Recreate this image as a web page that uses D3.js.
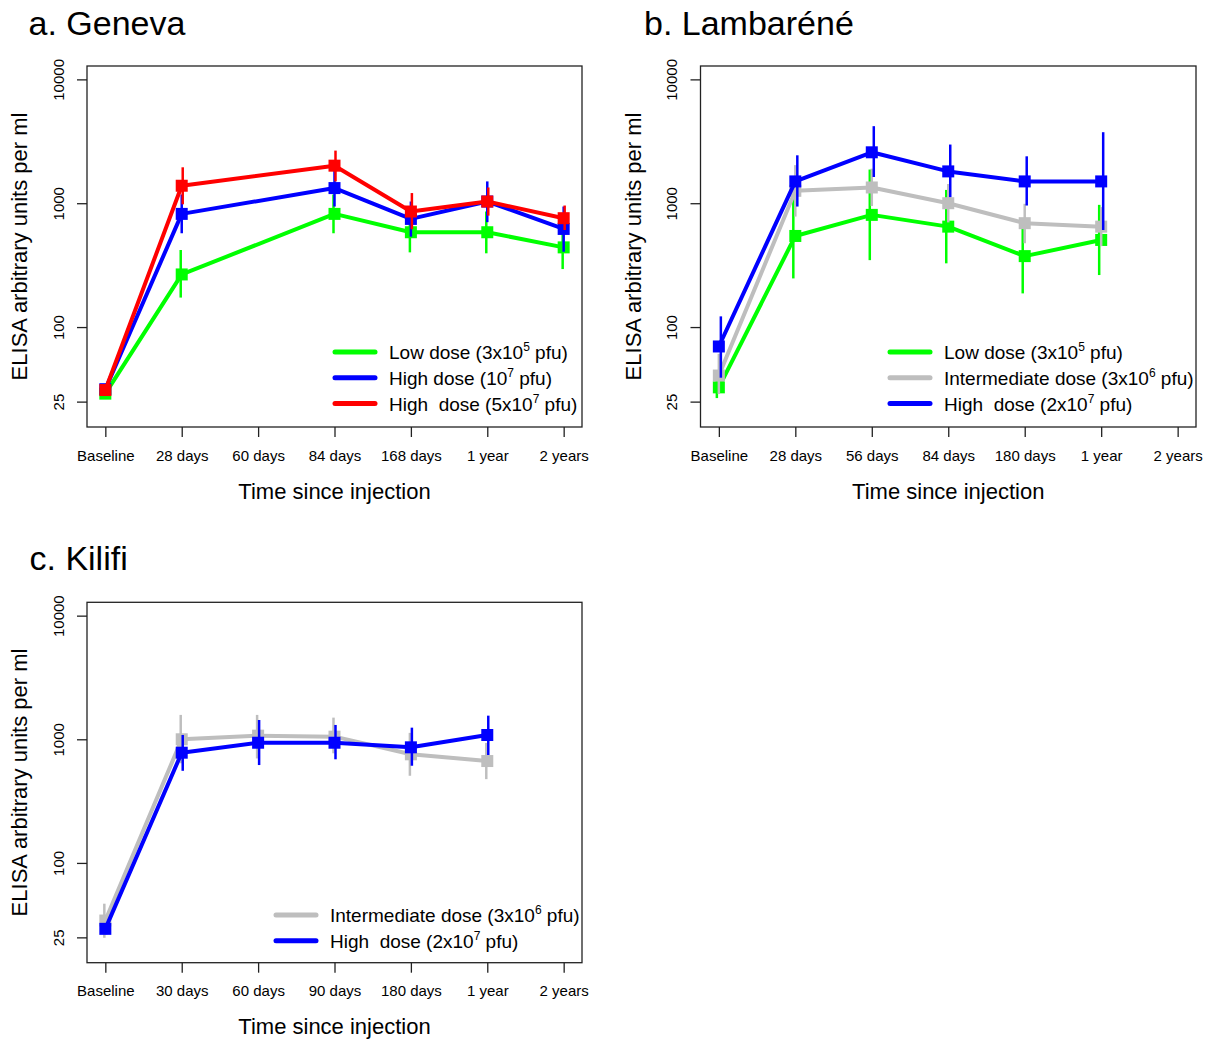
<!DOCTYPE html>
<html>
<head>
<meta charset="utf-8">
<script src="https://cdn.jsdelivr.net/npm/d3@7"></script>
<style>
  body { margin: 0; background: #fff; }
  svg { font-family: "Liberation Sans", Arial, sans-serif; }
  text { white-space: pre; }
</style>
</head>
<body>
<script>
// time points per site
var genevaTimes = ['Baseline', '28 days', '60 days', '84 days', '168 days', '1 year', '2 years'];
var lambareneTimes = ['Baseline', '28 days', '56 days', '84 days', '180 days', '1 year', '2 years'];
var kilifiTimes = ['Baseline', '30 days', '60 days', '90 days', '180 days', '1 year', '2 years'];

var yTicks = [25, 100, 1000, 10000];

// legend labels: [before superscript, superscript, after]
var lowLabel = ['Low dose (3x10', '5', ' pfu)'];
var high7Label = ['High dose (10', '7', ' pfu)'];
var high57Label = ['High  dose (5x10', '7', ' pfu)'];
var interLabel = ['Intermediate dose (3x10', '6', ' pfu)'];
var high27Label = ['High  dose (2x10', '7', ' pfu)'];

// Geneva (geometric means and CI), null = not measured
var genLow = [29, 266, null, 820, 583, 583, 440];
var genLowLo = [27, 173, null, 572, 401, 394, 294];
var genLowHi = [31, 419, null, 1175, 848, 857, 660];
var genHigh = [31.5, 820, null, 1325, 747, 1032, 620];
var genHighLo = [29, 572, null, 940, 537, 703, 406];
var genHighHi = [34, 1175, null, 1866, 1032, 1500, 940];
var genTop = [31, 1384, null, 2010, 857, 1032, 757];
var genTopLo = [28.5, 980, null, 1500, 617, 794, 608];
var genTopHi = [33.5, 1950, null, 2660, 1208, 1340, 958];

// Lambaréné
var lamLow = [32.6, 544, 805, 647, 374, 505, null];
var lamLowLo = [26.7, 247, 347, 327, 187, 263, null];
var lamLowHi = [40, 1250, 1870, 1280, 740, 970, null];
var lamInter = [40.6, 1259, 1340, 1000, 690, 647, null];
var lamInterLo = [28.8, 780, 950, 700, 475, 450, null];
var lamInterHi = [60.8, 2030, 1900, 1430, 989, 930, null];
var lamHigh = [69.7, 1500, 2577, 1807, 1500, 1500, null];
var lamHighLo = [39, 940, 1628, 1120, 958, 608, null];
var lamHighHi = [122, 2437, 4190, 2977, 2392, 3745, null];

// Kilifi
var kilInter = [34.2, 1000, 1070, 1050, 756, 667, null];
var kilInterLo = [24.8, 640, 700, 770, 507, 476, null];
var kilInterHi = [46.8, 1575, 1575, 1497, 1127, 935, null];
var kilHigh = [29.3, 779, 938, 938, 861, 1083, null];
var kilHighLo = [26.5, 556, 619, 689, 611, 746, null];
var kilHighHi = [32.5, 1083, 1433, 1306, 1242, 1553, null];

var GREEN = '#00ff00', BLUE = '#0000ff', RED = '#ff0000', GRAY = '#bebebe';

var svg = d3.select('body').append('svg')
    .attr('width', 1213)
    .attr('height', 1044);

function drawPanel(p) {
    var g = svg.append('g');

    var x = d3.scaleLinear()
        .domain([-0.24, 6.24])
        .range([p.left, p.right]);

    var y = d3.scaleLog()
        .domain([Math.pow(10, 1.193), Math.pow(10, 4.108)])
        .range([p.bottom, p.top]);

    // title
    g.append('text')
        .attr('x', p.titleX)
        .attr('y', p.titleY)
        .attr('font-size', 34)
        .text(p.title);

    // series: line, error bars, squares
    p.series.forEach(function (s) {
        var pts = s.values.map(function (v, i) {
            return {i: i, v: v, lo: s.lo[i], hi: s.hi[i]};
        }).filter(function (d) { return d.v != null; });

        var line = d3.line()
            .x(function (d) { return x(d.i); })
            .y(function (d) { return y(d.v); });

        g.append('path')
            .datum(pts)
            .attr('d', line)
            .attr('fill', 'none')
            .attr('stroke', s.color)
            .attr('stroke-width', 4)
            .attr('stroke-linejoin', 'round');

        g.selectAll(null).data(pts).enter().append('line')
            .attr('x1', function (d) { return x(d.i) + s.dx; })
            .attr('x2', function (d) { return x(d.i) + s.dx; })
            .attr('y1', function (d) { return y(d.lo); })
            .attr('y2', function (d) { return y(d.hi); })
            .attr('stroke', s.color)
            .attr('stroke-width', 2.5);

        g.selectAll(null).data(pts).enter().append('rect')
            .attr('x', function (d) { return x(d.i) - 6; })
            .attr('y', function (d) { return y(d.v) - 6; })
            .attr('width', 12)
            .attr('height', 12)
            .attr('fill', s.color);
    });

    // box
    g.append('rect')
        .attr('x', p.left)
        .attr('y', p.top)
        .attr('width', p.right - p.left)
        .attr('height', p.bottom - p.top)
        .attr('fill', 'none')
        .attr('stroke', '#222')
        .attr('stroke-width', 1.3);

    // x axis
    var xa = g.append('g')
        .attr('transform', 'translate(0,' + p.bottom + ')')
        .call(d3.axisBottom(x)
            .tickValues(d3.range(p.times.length))
            .tickFormat(function (i) { return p.times[i]; })
            .tickSize(10)
            .tickPadding(13));
    xa.select('.domain').remove();
    xa.selectAll('line').attr('stroke', '#222').attr('stroke-width', 1.3);
    xa.selectAll('text')
        .attr('font-size', 15)
        .attr('font-family', null)
        .attr('fill', '#000');

    // y axis
    var ya = g.append('g')
        .attr('transform', 'translate(' + p.left + ',0)')
        .call(d3.axisLeft(y)
            .tickValues(yTicks)
            .tickFormat(d3.format('d'))
            .tickSize(10));
    ya.select('.domain').remove();
    ya.selectAll('line').attr('stroke', '#222').attr('stroke-width', 1.3);
    ya.selectAll('text')
        .attr('font-size', 15)
        .attr('font-family', null)
        .attr('fill', '#000')
        .attr('transform', 'rotate(-90)')
        .attr('x', 0)
        .attr('y', -23.5)
        .attr('dy', 0)
        .attr('text-anchor', 'middle');

    // axis titles
    g.append('text')
        .attr('x', (p.left + p.right) / 2)
        .attr('y', p.bottom + 71.5)
        .attr('text-anchor', 'middle')
        .attr('font-size', 22)
        .text('Time since injection');

    g.append('text')
        .attr('transform', 'translate(' + (p.left - 60) + ',' + ((p.top + p.bottom) / 2) + ') rotate(-90)')
        .attr('text-anchor', 'middle')
        .attr('font-size', 22)
        .text('ELISA arbitrary units per ml');

    // legend
    p.series.forEach(function (s, k) {
        var ry = p.legendY + k * 25.8;
        g.append('line')
            .attr('x1', p.legendX)
            .attr('x2', p.legendX + 40)
            .attr('y1', ry)
            .attr('y2', ry)
            .attr('stroke', s.color)
            .attr('stroke-width', 5)
            .attr('stroke-linecap', 'round');
        var t = g.append('text')
            .attr('x', p.legendX + 54)
            .attr('y', ry + 7)
            .attr('font-size', 19);
        t.append('tspan').text(s.label[0]);
        t.append('tspan').attr('dy', -8).attr('font-size', 12).text(s.label[1]);
        t.append('tspan').attr('dy', 8).text(s.label[2]);
    });
}

drawPanel({
    title: 'a. Geneva', titleX: 28.5, titleY: 35,
    left: 87, right: 582, top: 66, bottom: 427,
    times: genevaTimes,
    legendX: 335, legendY: 352,
    series: [
        {label: lowLabel, color: GREEN, values: genLow, lo: genLowLo, hi: genLowHi, dx: -1},
        {label: high7Label, color: BLUE, values: genHigh, lo: genHighLo, hi: genHighHi, dx: 0},
        {label: high57Label, color: RED, values: genTop, lo: genTopLo, hi: genTopHi, dx: 1}
    ]
});

drawPanel({
    title: 'b. Lambaréné', titleX: 644, titleY: 35,
    left: 700.5, right: 1196, top: 66, bottom: 427,
    times: lambareneTimes,
    legendX: 890, legendY: 352,
    series: [
        {label: lowLabel, color: GREEN, values: lamLow, lo: lamLowLo, hi: lamLowHi, dx: -2},
        {label: interLabel, color: GRAY, values: lamInter, lo: lamInterLo, hi: lamInterHi, dx: 0},
        {label: high27Label, color: BLUE, values: lamHigh, lo: lamHighLo, hi: lamHighHi, dx: 2}
    ]
});

drawPanel({
    title: 'c. Kilifi', titleX: 29.5, titleY: 569.5,
    left: 87, right: 582, top: 602.3, bottom: 962.7,
    times: kilifiTimes,
    legendX: 276, legendY: 915,
    series: [
        {label: interLabel, color: GRAY, values: kilInter, lo: kilInterLo, hi: kilInterHi, dx: -1},
        {label: high27Label, color: BLUE, values: kilHigh, lo: kilHighLo, hi: kilHighHi, dx: 1}
    ]
});
</script>
</body>
</html>
